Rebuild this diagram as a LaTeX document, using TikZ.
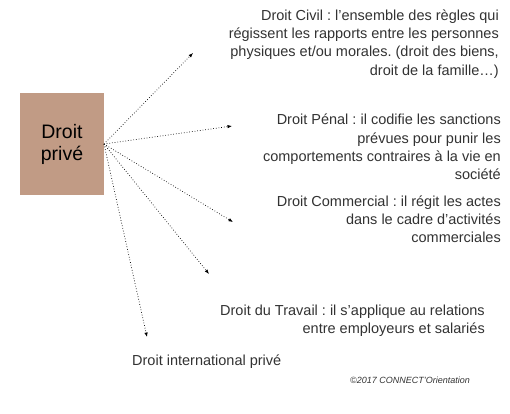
\documentclass[tikz,border=0pt]{standalone}
\usepackage{fontspec}
\setmainfont{Liberation Sans}
\usetikzlibrary{arrows.meta}
\frenchspacing
\definecolor{boxfill}{RGB}{193,155,133}
\definecolor{txt}{RGB}{50,50,50}
\begin{document}
\begin{tikzpicture}[x=1bp,y=-1bp,
  lab/.style={inner sep=0pt,align=right,text=txt,font=\fontsize{14.5bp}{18.2bp}\selectfont},
  conn/.style={dotted,line width=0.7pt,-{Latex[length=4.5pt,width=3.5pt]}}]
\useasboundingbox (0,0) rectangle (510,413);
\node[fill=boxfill,minimum width=84bp,minimum height=102bp,inner sep=0pt,
  align=center,font=\fontsize{19.5bp}{22bp}\selectfont] (box) at (62,144) {Droit\\privé};
\coordinate (src) at (104,144);
\coordinate (e1) at (193,53);
\coordinate (e2) at (232,126);
\coordinate (e3) at (233,222);
\coordinate (e4) at (209,274);
\coordinate (e5) at (147,337);
\node[lab,anchor=east] (civil) at (499,44) {Droit Civil : l’ensemble des règles qui\\régissent les rapports entre les personnes\\physiques et/ou morales. (droit des biens,\\droit de la famille…)};
\node[lab,anchor=east] (penal) at (501,147) {Droit Pénal : il codifie les sanctions\\prévues pour punir les\\comportements contraires à la vie en\\société};
\node[lab,anchor=east] (comm) at (501,219) {Droit Commercial : il régit les actes\\dans le cadre d’activités\\commerciales};
\node[lab,anchor=east] (trav) at (485,321) {Droit du Travail : il s’applique au relations\\entre employeurs et salariés};
\node[lab,anchor=west] (intl) at (132,362) {Droit international privé};
\node[inner sep=0pt,anchor=east,text=txt,font=\fontsize{9bp}{10bp}\selectfont\itshape] (copy) at (470,380) {©2017 CONNECT’Orientation};
\draw[conn] (src) -- (e1);
\draw[conn] (src) -- (e2);
\draw[conn] (src) -- (e3);
\draw[conn] (src) -- (e4);
\draw[conn] (src) -- (e5);
\end{tikzpicture}
\end{document}
